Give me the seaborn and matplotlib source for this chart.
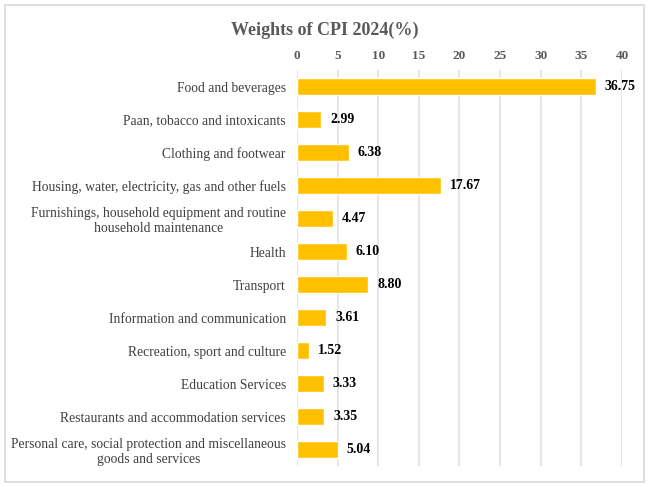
import matplotlib
matplotlib.use("Agg")
import matplotlib.pyplot as plt
import seaborn as sns
import pandas as pd
from matplotlib.patches import Rectangle

categories = ['Food and beverages',
              'Paan, tobacco and intoxicants',
              'Clothing and footwear',
              'Housing, water, electricity, gas and other fuels',
              'Furnishings, household equipment and routine\nhousehold maintenance',
              'Health',
              'Transport',
              'Information and communication',
              'Recreation, sport and culture',
              'Education Services',
              'Restaurants and accommodation services',
              'Personal care, social protection and miscellaneous\ngoods and services']
weights = [36.75, 2.99, 6.38, 17.67, 4.47, 6.10, 8.80, 3.61, 1.52, 3.33, 3.35, 5.04]
xticks = [0, 5, 10, 15, 20, 25, 30, 35, 40]

df = pd.DataFrame({'cat': categories, 'w': weights})

sns.set_style('white')
plt.rcParams['font.family'] = ['Liberation Serif', 'DejaVu Serif']

fig = plt.figure(figsize=(6.49, 4.87), dpi=100)
ax = fig.add_axes([0.4576, 0.043, 0.5008, 0.813])

sns.barplot(data=df, x='w', y='cat', color='#FFC000', width=0.52,
            saturation=1, ax=ax, zorder=3)

ax.set_xlim(0, 40)
ax.set_xticks(xticks)
ax.xaxis.tick_top()
ax.tick_params(axis='x', length=0, labelsize=9.5, labelcolor='#595959', pad=6)
ax.tick_params(axis='y', length=0, labelsize=9.8, labelcolor='#404040', pad=8)
for lab in ax.get_xticklabels():
    lab.set_fontweight('bold')
for lab in ax.get_yticklabels():
    lab.set_multialignment('center')
ax.set_xlabel('')
ax.set_ylabel('')
ax.grid(axis='x', color='#e6e6e6', linewidth=1.5, zorder=0)
for s in ax.spines.values():
    s.set_visible(False)

for i, v in enumerate(weights):
    ax.text(v + 1.1, i, f'{v:.2f}', va='center', ha='left', fontsize=10,
            fontweight='bold', color='black')

fig.text(0.5, 0.937, 'Weights of CPI 2024(%)', ha='center', va='center',
         fontsize=13, fontweight='bold', color='#595959')

fig.patches.append(Rectangle((0.008, 0.01), 0.984, 0.98, transform=fig.transFigure,
                             fill=False, edgecolor='#d9d9d9', linewidth=1.2))

fig.savefig('out.png', dpi=100)
